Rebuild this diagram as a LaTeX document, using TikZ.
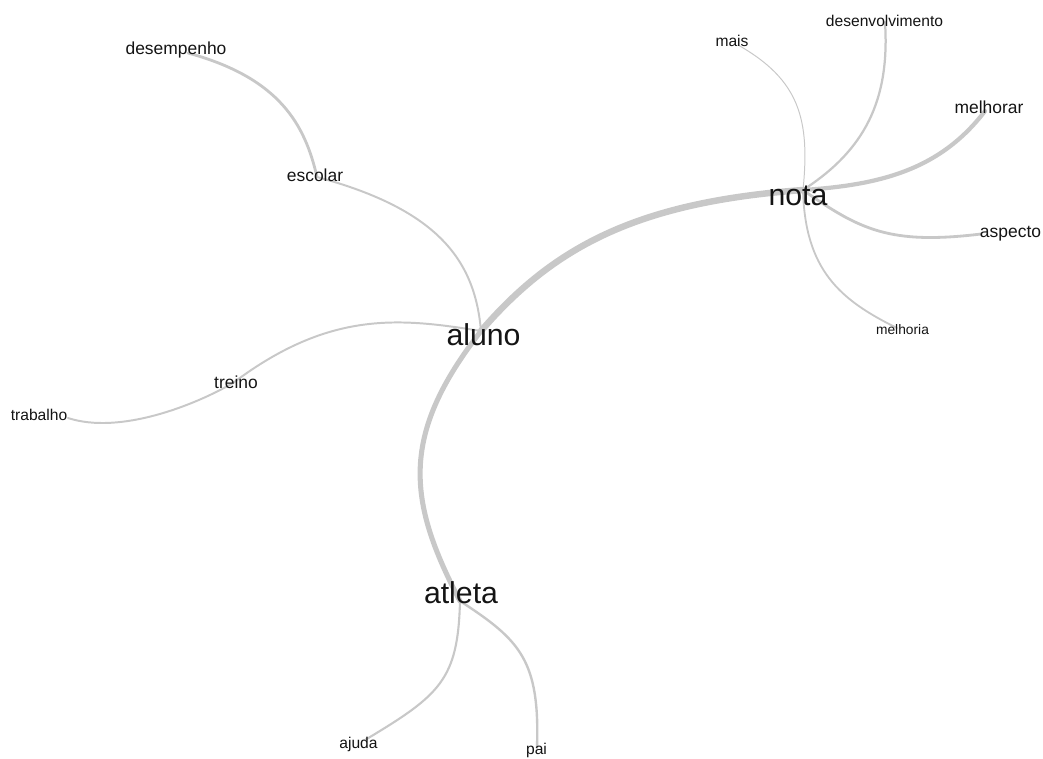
\documentclass[tikz,border=0pt]{standalone}
\usepackage{fontspec}
\setmainfont{Liberation Sans}
\definecolor{edgegray}{RGB}{200,200,200}
\definecolor{labeltext}{RGB}{20,20,20}
\begin{document}
\begin{tikzpicture}[x=0.025cm,y=-0.025cm,
        edge/.style={draw=edgegray,line cap=round},
        word/.style={anchor=base,inner sep=0pt,text=labeltext},
        big/.style={word,font=\fontsize{21.5}{24}\selectfont},
        mid/.style={word,font=\fontsize{12.4}{14}\selectfont},
        small/.style={word,font=\fontsize{11.1}{13}\selectfont},
        tiny/.style={word,font=\fontsize{9.8}{12}\selectfont}]
        \useasboundingbox (0,0) rectangle (1043,758);
        %% vertex points
        \coordinate (aluno-v) at (481,331);
        \coordinate (nota-v) at (803,190);
        \coordinate (atleta-v) at (460,601);
        \coordinate (escolar-v) at (317,177);
        \coordinate (desempenho-v) at (188,53);
        \coordinate (treino-v) at (233,383);
        \coordinate (trabalho-v) at (68,418);
        \coordinate (mais-v) at (738,45);
        \coordinate (desenvolvimento-v) at (885,22);
        \coordinate (melhorar-v) at (985,111);
        \coordinate (aspecto-v) at (981,234);
        \coordinate (melhoria-v) at (897,328);
        \coordinate (ajuda-v) at (365,740);
        \coordinate (pai-v) at (537,748);
        %% edges, thick ones first
        \draw[edge,line width=4.6pt] (aluno-v) .. controls (555,245) and (640,202) .. (nota-v);
        \draw[edge,line width=3.6pt] (aluno-v) .. controls (400,435) and (407,500) .. (atleta-v);
        \draw[edge,line width=1.4pt] (aluno-v) .. controls (475,262) and (440,210) .. (escolar-v);
        \draw[edge,line width=2pt] (escolar-v) .. controls (305,125) and (280,78) .. (desempenho-v);
        \draw[edge,line width=1.4pt] (aluno-v) .. controls (400,318) and (330,310) .. (treino-v);
        \draw[edge,line width=1.4pt] (treino-v) .. controls (195,405) and (120,435) .. (trabalho-v);
        \draw[edge,line width=0.7pt] (nota-v) .. controls (810,120) and (800,80) .. (mais-v);
        \draw[edge,line width=1.6pt] (nota-v) .. controls (865,150) and (890,100) .. (desenvolvimento-v);
        \draw[edge,line width=3pt] (nota-v) .. controls (880,185) and (940,170) .. (melhorar-v);
        \draw[edge,line width=2pt] (nota-v) .. controls (860,230) and (890,245) .. (aspecto-v);
        \draw[edge,line width=1.3pt] (nota-v) .. controls (805,270) and (840,300) .. (melhoria-v);
        \draw[edge,line width=1.5pt] (atleta-v) .. controls (458,680) and (440,695) .. (ajuda-v);
        \draw[edge,line width=1.7pt] (atleta-v) .. controls (520,640) and (540,660) .. (pai-v);
        %% labels
        \node[big] (aluno) at (483.5,345) {aluno};
        \node[big] (nota) at (798,205) {nota};
        \node[big] (atleta) at (461,603) {atleta};
        \node[mid] (desempenho) at (176,54) {desempenho};
        \node[mid] (escolar) at (315,181) {escolar};
        \node[mid] (treino) at (236,388) {treino};
        \node[small] (trabalho) at (39,420) {trabalho};
        \node[small] (mais) at (732,46) {mais};
        \node[small] (desenvolvimento) at (884.5,26) {desenvolvimento};
        \node[mid] (melhorar) at (989,113) {melhorar};
        \node[mid] (aspecto) at (1010.5,237) {aspecto};
        \node[tiny] (melhoria) at (902.5,334) {melhoria};
        \node[small] (ajuda) at (358.5,748) {ajuda};
        \node[small] (pai) at (536.5,754) {pai};
\end{tikzpicture}
\end{document}
